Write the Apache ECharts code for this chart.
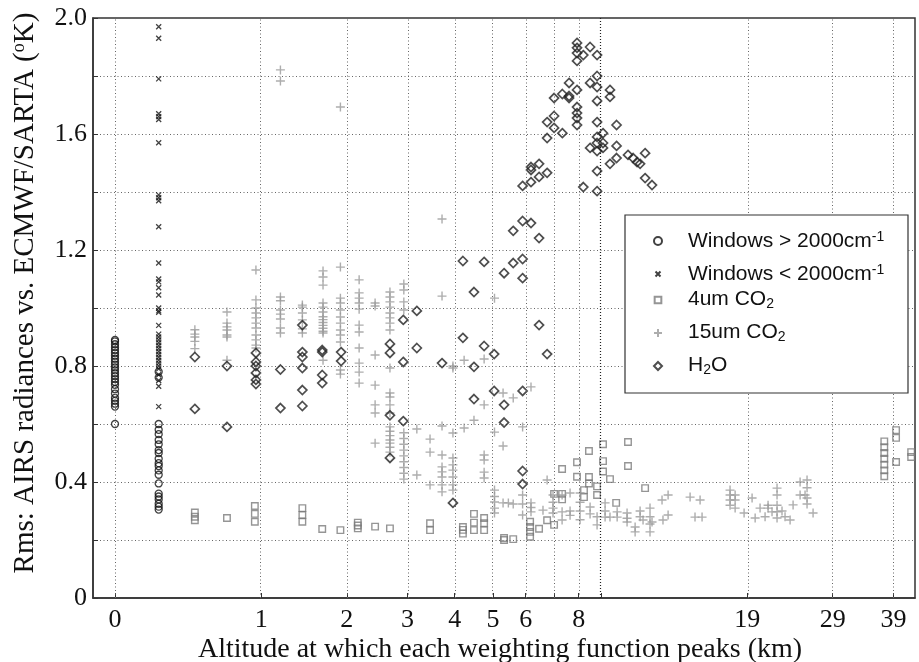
<!DOCTYPE html>
<html>
<head>
	<meta charset="utf-8">
	<script src="https://cdn.jsdelivr.net/npm/echarts@6/dist/echarts.min.js"></script>
</head>
<body style="margin:0;background:#fff;">
<div id="main" style="width:919px;height:662px;"></div>
<script>
// x axis is log(1 + altitude km); ticks and labels in km
var tickKm = [0, 1, 2, 3, 4, 5, 6, 7, 8, 9, 19, 29, 39];
var labelKm = [0, 1, 2, 3, 4, 5, 6, 8, 19, 29, 39];
var xRangeKm = [-0.099, 43.3];

// each entry: [altitude km, [rms values...]]
var winHi = [
	[0, [0.89,0.885,0.875,0.865,0.855,0.845,0.835,0.825,0.815,0.805,0.795,0.785,0.775,0.765,0.755,0.745,0.735,0.72,0.705,0.69,0.68,0.67,0.66,0.60]],
	[0.23, [0.78,0.76,0.60,0.58,0.565,0.545,0.53,0.51,0.50,0.48,0.465,0.455,0.44,0.425,0.395,0.36,0.35,0.34,0.325,0.315,0.305]]
];
var winLo = [
	[0.23, [1.97,1.93,1.79,1.67,1.66,1.65,1.57,1.39,1.38,1.37,1.28,1.155,1.10,1.09,1.07,1.045,1.00,0.99,0.985,0.94,0.91,0.90,0.89,0.88,0.87,0.86,0.85,0.84,0.83,0.82,0.81,0.80,0.79,0.77,0.75,0.73,0.66]]
];
var co2s = [
	[0.46,[0.295,0.28,0.268]],[0.70,[0.276]],[0.94,[0.317,0.29,0.263]],[1.43,[0.31,0.286,0.263]],
	[1.67,[0.238]],[1.91,[0.234]],[2.16,[0.26,0.25,0.24]],[2.43,[0.246]],[2.68,[0.24]],
	[3.45,[0.258,0.234]],[4.2,[0.245,0.235,0.222]],[4.48,[0.29,0.26,0.234]],[4.75,[0.276,0.258,0.234]],
	[5.32,[0.207,0.2]],[5.6,[0.203]],[6.15,[0.263,0.245,0.228,0.211]],[6.46,[0.239]],[6.75,[0.268]],
	[7.01,[0.359,0.252]],[7.32,[0.445,0.359,0.34]],[7.93,[0.468,0.418]],[8.23,[0.372,0.348]],
	[8.45,[0.507,0.417,0.395]],[8.82,[0.385,0.355]],[9.1,[0.53,0.472,0.436]],[9.44,[0.41]],
	[9.75,[0.328]],[10.37,[0.538,0.455]],[11.33,[0.379]],
	[37.3,[0.54,0.52,0.5,0.48,0.46,0.44,0.42]],[39.5,[0.579,0.552,0.469]],[42.5,[0.503,0.486]]
];
var co2l = [
	[0.46,[0.925,0.91,0.9,0.885,0.86]],
	[0.70,[0.986,0.948,0.935,0.924,0.907,0.9,0.82]],
	[0.95,[1.131,1.028,1.0,0.983,0.966,0.948,0.931,0.907,0.89,0.872,0.862]],
	[1.19,[1.821,1.783,1.038,1.025,0.993,0.979,0.962,0.931,0.914]],
	[1.43,[1.01,1.003,0.983,0.959,0.928,0.914]],
	[1.68,[1.128,1.107,1.079,1.017,1.003,0.986,0.97,0.96,0.95,0.94,0.93,0.92,0.914,0.82]],
	[1.91,[1.693,1.141,1.034,1.017,0.993,0.969,0.948,0.924,0.907,0.883,0.786,0.772]],
	[2.18,[1.097,1.052,1.034,1.017,0.996,0.941,0.917,0.862,0.81,0.779,0.741]],
	[2.43,[1.017,1.007,0.838,0.734,0.666,0.638,0.534]],
	[2.68,[1.055,1.038,1.021,1.003,0.983,0.966,0.948,0.924,0.793,0.707,0.693,0.666,0.638,0.59,0.575,0.56,0.545,0.534,0.52,0.503]],
	[2.93,[1.083,1.062,1.021,0.993,0.57,0.55,0.53,0.51,0.49,0.47,0.45,0.43,0.41]],
	[3.18,[0.583,0.424]],[3.45,[0.548,0.503,0.39]],
	[3.71,[1.307,1.041,0.593,0.493,0.452,0.435,0.417,0.39,0.366]],
	[3.96,[0.80,0.793,0.569,0.483,0.459,0.441,0.417,0.39,0.372]],
	[4.23,[0.82,0.586]],[4.48,[0.613]],[4.75,[0.824,0.666,0.493,0.476,0.434,0.414]],
	[5.04,[1.034,0.572,0.372,0.35,0.331,0.31,0.293]],[5.29,[0.707,0.524,0.328]],[5.45,[0.328]],
	[5.6,[0.69,0.324]],[5.9,[0.59,0.355,0.324,0.286]],[6.18,[0.728,0.328,0.312,0.297]],
	[6.6,[0.303]],[6.75,[0.407]],[6.97,[0.355,0.33,0.31,0.293]],[7.32,[0.355,0.297,0.269]],
	[7.64,[0.362,0.30,0.285]],[8.06,[0.362,0.33,0.30,0.27]],[8.5,[0.314,0.29]],[8.82,[0.252,0.28]],
	[9.2,[0.328,0.30,0.279]],[9.44,[0.279]],[9.8,[0.297,0.279]],[10.32,[0.293,0.275,0.262]],
	[10.76,[0.245,0.228]],[11.04,[0.30,0.28]],[11.21,[0.269]],[11.62,[0.31,0.28,0.255,0.228]],
	[11.74,[0.262]],[12.36,[0.338]],[12.42,[0.269]],[12.75,[0.355,0.286]],[14.26,[0.348]],
	[14.62,[0.279]],[15.0,[0.338]],[15.15,[0.279]],[17.44,[0.372,0.355,0.338,0.32]],
	[17.89,[0.355,0.338,0.31]],[18.71,[0.293]],[19.47,[0.345]],[19.77,[0.276]],[20.26,[0.31]],
	[20.77,[0.28]],[21.08,[0.32,0.31]],[21.5,[0.297]],[22.04,[0.379,0.355,0.32,0.297,0.276]],
	[22.59,[0.30]],[22.93,[0.28]],[23.51,[0.269]],[23.86,[0.321]],[24.7,[0.40,0.355]],
	[25.31,[0.355]],[25.56,[0.407,0.38,0.345,0.324]],[26.33,[0.293]]
];
var h2o = [
	[0.46,[0.831,0.652]],[0.70,[0.80,0.59]],[0.95,[0.845,0.814,0.80,0.776,0.752,0.738]],
	[1.19,[0.788,0.655]],[1.43,[0.941,0.848,0.831,0.793,0.717,0.662]],[1.67,[0.855,0.848,0.769,0.741]],
	[1.92,[0.848,0.817]],[2.68,[0.876,0.845,0.63,0.483]],[2.92,[0.959,0.814,0.61]],[3.18,[0.99,0.862]],
	[3.71,[0.81]],[3.96,[0.328]],[4.2,[1.162,0.897]],[4.48,[1.055,0.797,0.686]],[4.75,[1.159,0.869]],
	[5.03,[0.841,0.714]],[5.32,[1.12,0.666,0.605]],[5.6,[1.266,1.155]],
	[5.9,[1.421,1.30,1.169,1.103,0.714,0.438,0.393]],[6.18,[1.486,1.476,1.434,1.293]],
	[6.46,[1.497,1.452,1.241,0.941]],[6.75,[1.641,1.586,1.466,0.841]],[7.01,[1.724,1.662,1.621]],
	[7.33,[1.738,1.603]],[7.6,[1.776,1.731,1.724]],
	[7.93,[1.914,1.897,1.879,1.852,1.752,1.693,1.672,1.655,1.631]],[8.2,[1.872,1.417]],
	[8.5,[1.90,1.776,1.552]],[8.82,[1.872,1.80,1.762,1.714,1.641,1.59,1.569,1.541,1.472,1.403]],
	[9.1,[1.603,1.569,1.552]],[9.44,[1.752,1.728,1.497]],[9.77,[1.631,1.559,1.517]],
	[10.37,[1.528]],[10.65,[1.517]],[10.87,[1.503]],[11.04,[1.497]],[11.33,[1.534,1.448]],[11.74,[1.424]]
];

var names = ['Windows > 2000cm-1', 'Windows < 2000cm-1', '4um CO2', '15um CO2', 'H2O'];
var legendText = {
	'Windows > 2000cm-1': '{g| }{a|Windows > 2000cm}{sup|-1}',
	'Windows < 2000cm-1': '{g| }{a|Windows < 2000cm}{sup|-1}',
	'4um CO2': '{g| }{b|4um CO}{sub|2}',
	'15um CO2': '{g| }{b|15um CO}{sub|2}',
	'H2O': '{g| }{b|H}{sub|2}{b|O}'
};

var crossPath = 'path://M0,0L10,10M10,0L0,10';
var plusPath = 'path://M5,0L5,10M0,5L10,5';

function kx(km) { return Math.log(1 + km); }
function flat(cols) {
	var out = [];
	cols.forEach(function (c) {
		c[1].forEach(function (v) { out.push([kx(c[0]), v]); });
	});
	return out;
}

var serif = 'Liberation Serif';
var gridDot = {type: [1, 2.5], color: '#666', width: 1};

function sc(name, cols, symbol, size, stroke, lw) {
	return {
		name: name, type: 'scatter', data: flat(cols),
		symbol: symbol, symbolSize: size, z: 3,
		itemStyle: {color: 'rgba(0,0,0,0)', borderColor: stroke, borderWidth: lw},
		emphasis: {disabled: true}
	};
}

var option = {
	animation: false,
	grid: {left: 93, top: 18, right: 4, bottom: 64, show: true, borderColor: '#333', borderWidth: 1.5},
	xAxis: {
		type: 'value', min: kx(xRangeKm[0]), max: kx(xRangeKm[1]),
		axisLine: {show: true, onZero: false, lineStyle: {color: '#333', width: 1.5}},
		splitLine: {show: false},
		axisTick: {show: true, inside: true, length: 5, customValues: tickKm.map(kx), lineStyle: {color: '#333'}},
		axisLabel: {
			customValues: labelKm.map(kx), margin: 9,
			fontFamily: serif, fontSize: 26, color: '#111',
			formatter: function (v) { return String(Math.round(Math.exp(v) - 1)); }
		}
	},
	yAxis: {
		type: 'value', min: 0, max: 2, interval: 0.2,
		axisLine: {show: true, onZero: false, lineStyle: {color: '#333', width: 1.5}},
		axisTick: {show: true, inside: true, length: 5, lineStyle: {color: '#333'}},
		splitLine: {show: true, lineStyle: gridDot},
		axisLabel: {
			margin: 6, fontFamily: serif, fontSize: 26, color: '#111',
			formatter: function (v) {
				var k = Math.round(v * 10);
				if (k % 4 !== 0) return '';
				return k === 0 ? '0' : (k / 10).toFixed(1);
			}
		}
	},
	legend: {
		data: [
			{name: names[0]},
			{name: names[1], icon: 'path://M-3,-3M13,13M0,0L10,10M10,0L0,10'},
			{name: names[2], icon: 'path://M-1,-1M11,11M0,0L10,0L10,10L0,10Z'},
			{name: names[3]},
			{name: names[4]}
		],
		orient: 'vertical', left: 653, top: 223, padding: 0,
		itemWidth: 8, itemHeight: 8, itemGap: 4, selectedMode: false, z: 20,
		formatter: function (n) { return legendText[n]; },
		textStyle: {
			color: '#111', fontFamily: 'Liberation Sans', fontSize: 21,
			rich: {
				g: {width: 21},
				a: {fontSize: 21, fontFamily: 'Liberation Sans', lineHeight: 22, padding: [8, 0, 0, 0], verticalAlign: 'bottom'},
				sup: {fontSize: 14, fontFamily: 'Liberation Sans', lineHeight: 14, verticalAlign: 'top'},
				b: {fontSize: 21, fontFamily: 'Liberation Sans', lineHeight: 22, padding: [0, 0, 8, 0], verticalAlign: 'top'},
				sub: {fontSize: 14, fontFamily: 'Liberation Sans', lineHeight: 14, verticalAlign: 'bottom'}
			}
		}
	},
	graphic: [
		{type: 'rect', z: 10, shape: {x: 625, y: 215, width: 283, height: 178},
			style: {fill: '#fff', stroke: '#333', lineWidth: 1.2}},
		{type: 'text', x: 500, y: 650, z: 10,
			style: {text: 'Altitude at which each weighting function peaks (km)', fill: '#111',
				fontFamily: serif, fontSize: 28, align: 'center', verticalAlign: 'middle'}},
		{type: 'text', x: 25, y: 293, rotation: Math.PI / 2, z: 10,
			style: {text: 'Rms: AIRS radiances vs. ECMWF/SARTA ({s|o}K)', fill: '#111',
				fontFamily: serif, fontSize: 29, align: 'center', verticalAlign: 'middle',
				rich: {s: {fontSize: 18, fontFamily: serif, lineHeight: 14, verticalAlign: 'top'}}}}
	],
	series: [
		{
			name: 'grid', type: 'scatter', data: [], z: 1, silent: true,
			markLine: {
				silent: true, symbol: ['none', 'none'], label: {show: false},
				lineStyle: gridDot, emphasis: {disabled: true},
				data: tickKm.map(function (k) {
					var d = {xAxis: kx(k)};
					if (k === 9) d.lineStyle = {type: [1, 2], color: '#222', width: 1.2};
					return d;
				})
			}
		},
		sc(names[0], winHi, 'circle', 7, '#111', 1.3),
		sc(names[1], winLo, crossPath, 5, '#111', 1.3),
		sc(names[2], co2s, 'rect', 6.5, '#7a7a7a', 1.4),
		sc(names[3], co2l, plusPath, 9, '#999', 1.4),
		sc(names[4], h2o, 'diamond', 9, '#222', 1.7)
	]
};

var myChart = echarts.init(document.getElementById('main'));
myChart.setOption(option, true);
</script>
</body>
</html>
